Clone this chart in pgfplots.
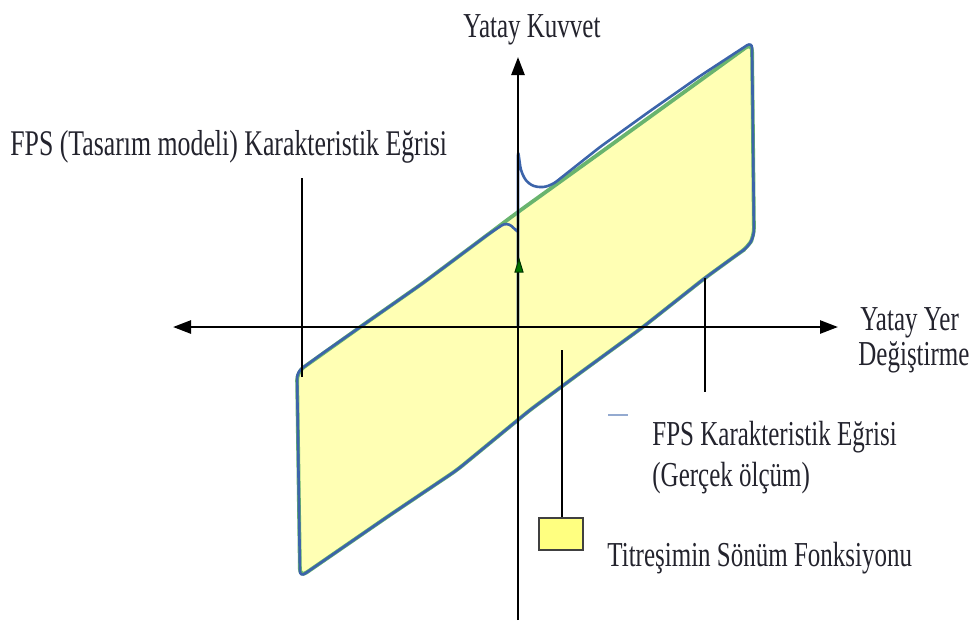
\documentclass[border=0pt]{standalone}
\usepackage{pgfplots}
\pgfplotsset{compat=1.18}
\usepackage{fontspec}
\setmainfont{Liberation Serif}
\usetikzlibrary{arrows.meta}
\definecolor{fillY}{RGB}{255,255,180}
\definecolor{boxY}{RGB}{255,255,128}
\definecolor{grn}{RGB}{105,180,110}
\definecolor{blu}{RGB}{60,100,170}
\definecolor{txt}{RGB}{35,35,45}
\newcommand{\lab}[1]{\scalebox{1}[1.4]{#1}}
\begin{document}
\begin{tikzpicture}
\begin{axis}[
  scale only axis, width=487.5pt, height=311.5pt,
  xmin=0, xmax=975, ymin=0, ymax=623, y dir=reverse,
  hide axis, clip=false]
% design model (green) with damping area fill
\addplot[draw=grn, line width=1.9pt, fill=fillY, rounded corners=4pt] coordinates {
 (600,153) (752,43) (754,236) (748,247) (738,254) (705,278) (643,327) (580,373)
 (530,410) (457,470) (390,515) (300,577) (297,372) (363,325) (423,283) (518,212)
} -- cycle;
% measured curve (blue)
\addplot[draw=blu, line width=1.3pt, rounded corners=3pt] coordinates {
 (518,327) (518,150) (521,172) (528,184) (540,188) (552,185) (600,147) (650,111)
 (700,76) (752,42) (754,236)
 (748,247) (738,254) (705,278) (643,327) (580,373) (530,410) (457,470) (390,515)
 (300,577) (297,372) (323,353) (363,325) (423,283) (490,233) (507,222) (518,232)
};
% axes
\draw[line width=1.3pt, -{Triangle[length=9pt,width=6.5pt]}] (axis cs:518,620) -- (axis cs:518,57);
\draw[line width=1.3pt, {Triangle[length=9pt,width=6.5pt]}-{Triangle[length=9pt,width=6.5pt]}] (axis cs:173,327) -- (axis cs:838,327);
\draw[draw=black!80!green, fill=green!45!black, line width=0.5pt] (axis cs:515,272) -- (axis cs:523,272) -- (axis cs:519,259) -- cycle;
% leader lines
\draw[line width=0.6pt] (axis cs:302,178) -- (axis cs:302,377);
\draw[line width=0.6pt] (axis cs:705,278) -- (axis cs:705,392);
\draw[line width=0.6pt] (axis cs:562,350) -- (axis cs:562,518);
\draw[fill=boxY, draw=black!75, line width=0.8pt] (axis cs:539,518) rectangle (axis cs:583,550);
\draw[color=blu!55!white, line width=1.3pt] (axis cs:608,415) -- (axis cs:628,415);
% texts
\begin{scope}[every node/.style={font=\fontsize{12.5}{15}\selectfont, text=txt, inner sep=0pt}]
\node[anchor=base] at (axis cs:532,37) {\lab{Yatay Kuvvet}};
\node[anchor=base west, font=\fontsize{12.9}{15}\selectfont] at (axis cs:10,155) {\lab{FPS (Tasarım modeli) Karakteristik Eğrisi}};
\node[anchor=base west] at (axis cs:860,330) {\lab{Yatay Yer}};
\node[anchor=base west] at (axis cs:858,365) {\lab{Değiştirme}};
\node[anchor=base west] at (axis cs:652,445) {\lab{FPS Karakteristik Eğrisi}};
\node[anchor=base west] at (axis cs:652,486) {\lab{(Gerçek ölçüm)}};
\node[anchor=base west] at (axis cs:607,566) {\lab{Titreşimin Sönüm Fonksiyonu}};
\end{scope}
\coordinate (bl) at (axis cs:0,623);
\coordinate (tr) at (axis cs:975,0);
\end{axis}
\pgfresetboundingbox
\path (bl) rectangle (tr);
\end{tikzpicture}
\end{document}
